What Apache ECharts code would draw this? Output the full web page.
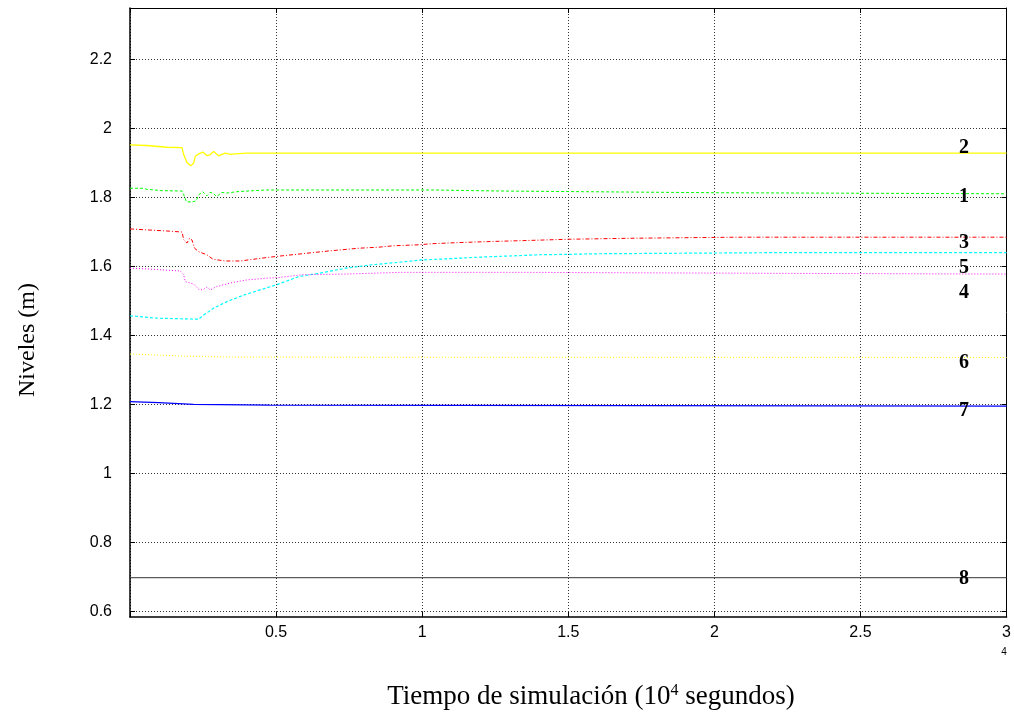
<!DOCTYPE html>
<html>
<head>
<meta charset="utf-8">
<script src="https://cdn.jsdelivr.net/npm/echarts@6/dist/echarts.min.js"></script>
<style>
  html, body { margin: 0; padding: 0; background: #fff; }
  #chart { width: 1014px; height: 714px; }
</style>
</head>
<body>
<div id="chart"></div>
<script>
// Tank levels over the simulation time (time in units of 10^4 s, level in m)
const tank1 = [[0,1.827],[0.041,1.827],[0.058,1.824],[0.109,1.820],[0.178,1.819],[0.184,1.808],[0.193,1.788],[0.212,1.787],[0.227,1.791],[0.235,1.808],[0.249,1.817],[0.263,1.805],[0.274,1.815],[0.284,1.813],[0.297,1.803],[0.314,1.815],[0.331,1.813],[0.366,1.817],[0.423,1.820],[0.468,1.822],[1.040,1.822],[1.045,1.819],[1.262,1.819],[1.266,1.817],[1.552,1.817],[1.556,1.814],[2.015,1.814],[2.019,1.811],[3,1.811]];
const tank2 = [[0,1.953],[0.058,1.951],[0.126,1.946],[0.178,1.945],[0.184,1.924],[0.195,1.902],[0.208,1.892],[0.218,1.900],[0.223,1.919],[0.235,1.927],[0.249,1.932],[0.263,1.922],[0.274,1.924],[0.286,1.934],[0.303,1.921],[0.326,1.929],[0.343,1.925],[0.360,1.927],[0.400,1.929],[3,1.929]];
const tank3 = [[0,1.709],[0.041,1.707],[0.126,1.703],[0.178,1.700],[0.184,1.677],[0.195,1.668],[0.204,1.682],[0.212,1.677],[0.221,1.653],[0.235,1.643],[0.263,1.634],[0.284,1.621],[0.326,1.616],[0.377,1.616],[0.423,1.621],[0.468,1.626],[0.510,1.630],[0.578,1.636],[0.680,1.645],[0.783,1.653],[0.851,1.656],[0.900,1.660],[0.990,1.663],[1.031,1.666],[1.114,1.669],[1.217,1.672],[1.342,1.675],[1.501,1.679],[1.722,1.682],[2.081,1.685],[3,1.685]];
const tank4 = [[0,1.595],[0.058,1.593],[0.172,1.587],[0.184,1.576],[0.189,1.556],[0.218,1.549],[0.235,1.534],[0.249,1.532],[0.263,1.540],[0.274,1.532],[0.297,1.542],[0.354,1.554],[0.400,1.561],[0.468,1.566],[0.509,1.568],[0.589,1.576],[0.737,1.578],[0.927,1.583],[1.349,1.583],[1.352,1.580],[2.258,1.580],[2.261,1.578],[3,1.578]];
const tank5 = [[0,1.457],[0.092,1.450],[0.235,1.447],[0.252,1.459],[0.286,1.479],[0.332,1.498],[0.389,1.517],[0.445,1.532],[0.502,1.547],[0.578,1.571],[0.646,1.580],[0.737,1.595],[0.828,1.605],[0.919,1.612],[0.999,1.619],[1.079,1.622],[1.193,1.627],[1.404,1.634],[1.611,1.637],[2.178,1.640],[3,1.640]];
const tank6 = [[0,1.346],[0.098,1.343],[0.184,1.340],[0.355,1.337],[3,1.336]];
const tank7 = [[0,1.208],[0.098,1.205],[0.217,1.200],[0.479,1.198],[0.485,1.195],[3,1.195]];
const tank8 = [[0,0.697],[3,0.697]];

const xTicks = [0, 0.5, 1, 1.5, 2, 2.5, 3];
const yTicks = [0.6, 0.8, 1, 1.2, 1.4, 1.6, 1.8, 2, 2.2];
const tankNames = ['1', '2', '3', '4', '5', '6', '7', '8'];

const chart = echarts.init(document.getElementById('chart'), null, { renderer: 'canvas' });

const gridLine = { show: true, lineStyle: { color: '#333', width: 1, type: [1, 2] } };
const tickStyle = { show: true, inside: true, length: 5, lineStyle: { color: '#000', width: 1 } };
const labelFont = { fontFamily: 'Liberation Sans, Arial, sans-serif', fontSize: 16, color: '#000' };
const serif = '"Liberation Serif", "Times New Roman", serif';

function line(name, data, color, type, width) {
  return {
    name: name, type: 'line', data: data, symbol: 'none', silent: true,
    animation: false, z: 3,
    lineStyle: { color: color, width: width || 1, type: type }
  };
}

// Tank number labels at the right of the plot
const tagPos = [[964, 197], [964, 148], [964, 243], [964, 293], [964, 268], [964, 363], [964, 411], [964, 579]];

chart.setOption({
  animation: false,
  backgroundColor: '#fff',
  grid: { left: 130, right: 6, top: 8, bottom: 97, show: false },
  xAxis: [{
    type: 'value', min: 0, max: 3, interval: 0.5, position: 'bottom',
    axisLine: { show: true, onZero: false, lineStyle: { color: '#000', width: 1.5 } },
    axisTick: tickStyle,
    splitLine: gridLine,
    axisLabel: Object.assign({ margin: 8, formatter: v => (v === 0 ? '' : String(v)) }, labelFont)
  }, {
    type: 'value', min: 0, max: 3, interval: 0.5, position: 'top',
    axisLine: { show: true, onZero: false, lineStyle: { color: '#000', width: 1 } },
    axisTick: tickStyle, splitLine: { show: false }, axisLabel: { show: false }
  }],
  yAxis: [{
    type: 'value', min: 0.583, max: 2.35, position: 'left',
    axisLine: { show: true, onZero: false, lineStyle: { color: '#000', width: 1.5 } },
    axisTick: Object.assign({ customValues: yTicks }, tickStyle),
    splitLine: gridLine,
    axisLabel: Object.assign({ customValues: yTicks, margin: 18 }, labelFont)
  }, {
    type: 'value', min: 0.583, max: 2.35, position: 'right',
    axisLine: { show: true, onZero: false, lineStyle: { color: '#000', width: 1 } },
    axisTick: Object.assign({ customValues: yTicks }, tickStyle),
    splitLine: { show: false }, axisLabel: { show: false }
  }],
  series: [
    line(tankNames[7], tank8, '#333333', 'solid', 1),
    line(tankNames[6], tank7, '#0000ff', 'solid', 1.2),
    line(tankNames[5], tank6, '#ffff00', [1, 2], 1),
    line(tankNames[4], tank5, '#00ffff', [3, 2], 1.2),
    line(tankNames[3], tank4, '#ff00ff', [1, 2], 1),
    line(tankNames[2], tank3, '#ff0000', [4, 2, 1, 2], 1),
    line(tankNames[0], tank1, '#00ff00', [3, 2], 1),
    line(tankNames[1], tank2, '#ffff00', 'solid', 1.3)
  ],
  graphic: tankNames.map((n, i) => ({
    type: 'text', x: tagPos[i][0], y: tagPos[i][1], z: 10,
    style: {
      text: n, fill: '#000', align: 'center', verticalAlign: 'middle',
      font: 'bold 20px ' + serif
    }
  })).concat([
    {
      type: 'text', x: 28, y: 340, rotation: Math.PI / 2,
      style: {
        text: 'Niveles (m)', fill: '#000', align: 'center', verticalAlign: 'middle',
        font: '24px ' + serif
      }
    },
    {
      type: 'text', x: 591, y: 697,
      style: {
        text: 'Tiempo de simulación (10{sup|4} segundos)',
        fill: '#000', align: 'center', verticalAlign: 'middle',
        font: '27px ' + serif,
        rich: {
          sup: { font: '16px ' + serif, verticalAlign: 'top', padding: [0, 0, 12, 0], fill: '#000' }
        }
      }
    },
    {
      type: 'text', x: 1004, y: 652,
      style: {
        text: '4', fill: '#000', align: 'center', verticalAlign: 'middle',
        font: '10px "Liberation Sans", Arial, sans-serif'
      }
    }
  ])
});
</script>
</body>
</html>
